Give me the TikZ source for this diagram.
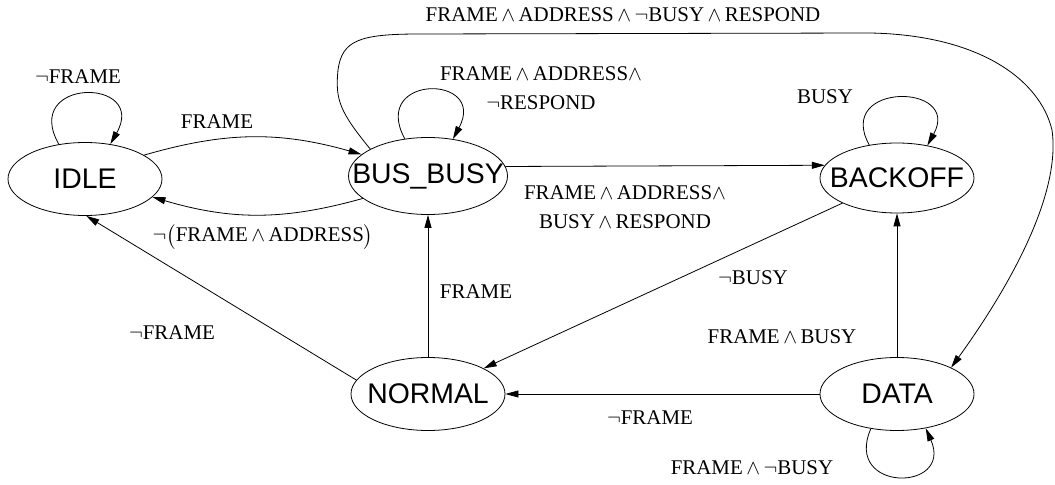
\documentclass[tikz,border=0pt]{standalone}
\usepackage{amsmath}
\usepackage{fontspec}
\setmainfont{Liberation Serif}
\newfontfamily\statefont{Liberation Sans}
\usetikzlibrary{arrows.meta,shapes.geometric}

\newcommand\sname[1]{\makebox[0pt]{#1}}

\begin{document}
\begin{tikzpicture}[
  x=1bp, y=1bp,
  state/.style={ellipse, draw, line width=.8bp, inner sep=0pt,
                minimum width=154bp, minimum height=73bp,
                font=\statefont\fontsize{28.5}{30}\selectfont},
  lbl/.style={inner sep=0pt, align=center, font=\fontsize{21}{29}\selectfont},
  ar/.style={-{Triangle[length=13bp,width=7bp]}, line width=.8bp},
]
\useasboundingbox (0,0) rectangle (1055,-485);

% states
\node[state] (idle) at (85,-179) {\sname{IDLE}};
\node[state, minimum width=159bp, minimum height=77bp] (bb) at (428,-176) {\sname{BUS\_BUSY}};
\node[state, minimum height=70bp] (bo) at (897,-178) {\sname{BACKOFF}};
\node[state] (nrm) at (428,-394) {\sname{NORMAL}};
\node[state] (dat) at (897,-394) {\sname{DATA}};

% guards
\node[lbl] (gidle) at (78,-77) {$\neg$FRAME};
\node[lbl] (gib) at (217,-122) {FRAME};
\node[lbl, anchor=base] (gbi) at (263,-242) {$\neg\bigl($FRAME\,$\wedge$\,ADDRESS$\bigr)$};
\node[lbl] (gbb) at (541,-88) {FRAME\,$\wedge$\,ADDRESS$\wedge$\\$\neg$RESPOND};
\node[lbl] (gbd) at (623,-15) {FRAME\,$\wedge$\,ADDRESS\,$\wedge$\,$\neg$BUSY\,$\wedge$\,RESPOND};
\node[lbl] (gbo) at (625,-207) {FRAME\,$\wedge$\,ADDRESS$\wedge$\\BUSY\,$\wedge$\,RESPOND};
\node[lbl] (goo) at (825,-97) {BUSY};
\node[lbl] (gon) at (753,-278) {$\neg$BUSY};
\node[lbl] (gnb) at (476,-292) {FRAME};
\node[lbl] (gni) at (172,-333) {$\neg$FRAME};
\node[lbl] (gdn) at (650,-418) {$\neg$FRAME};
\node[lbl] (gdo) at (782,-337) {FRAME\,$\wedge$\,BUSY};
\node[lbl] (gdd) at (752,-468) {FRAME\,$\wedge$\,$\neg$BUSY};

% transitions
\draw[ar] (idle.22) to[bend left=16] (bb.162);
\draw[ar] (bb.199) to[bend left=16] (idle.345);
\draw[ar] (nrm) -- (bb);
\draw[ar] (nrm.169) -- (idle.272);
\draw[ar] (bb.7.5) -- (bo.170.5);
\draw[ar] (bo) -- (nrm);
\draw[ar] (dat) -- (nrm);
\draw[ar] (dat) -- (bo);
\draw[ar] (bb.155) .. controls (340,-112) and (335,-100) .. (338,-70)
  .. controls (342,-40) and (360,-34) .. (420,-34) -- (870,-33)
  .. controls (980,-35) and (1040,-80) .. (1052,-130)
  .. controls (1062,-200) and (1000,-300) .. (dat.26);

% self loops
\draw[ar] (idle.127) .. controls +(-38,67) and +(38,67) .. (idle.54);
\draw[ar] (bb.122) .. controls +(-35,65) and +(35,65) .. (bb.56);
\draw[ar] (bo.130) .. controls +(-35,63) and +(35,63) .. (bo.47);
\draw[ar] (dat.233) .. controls +(-28,-64) and +(28,-64) .. (dat.310);
\end{tikzpicture}
\end{document}
